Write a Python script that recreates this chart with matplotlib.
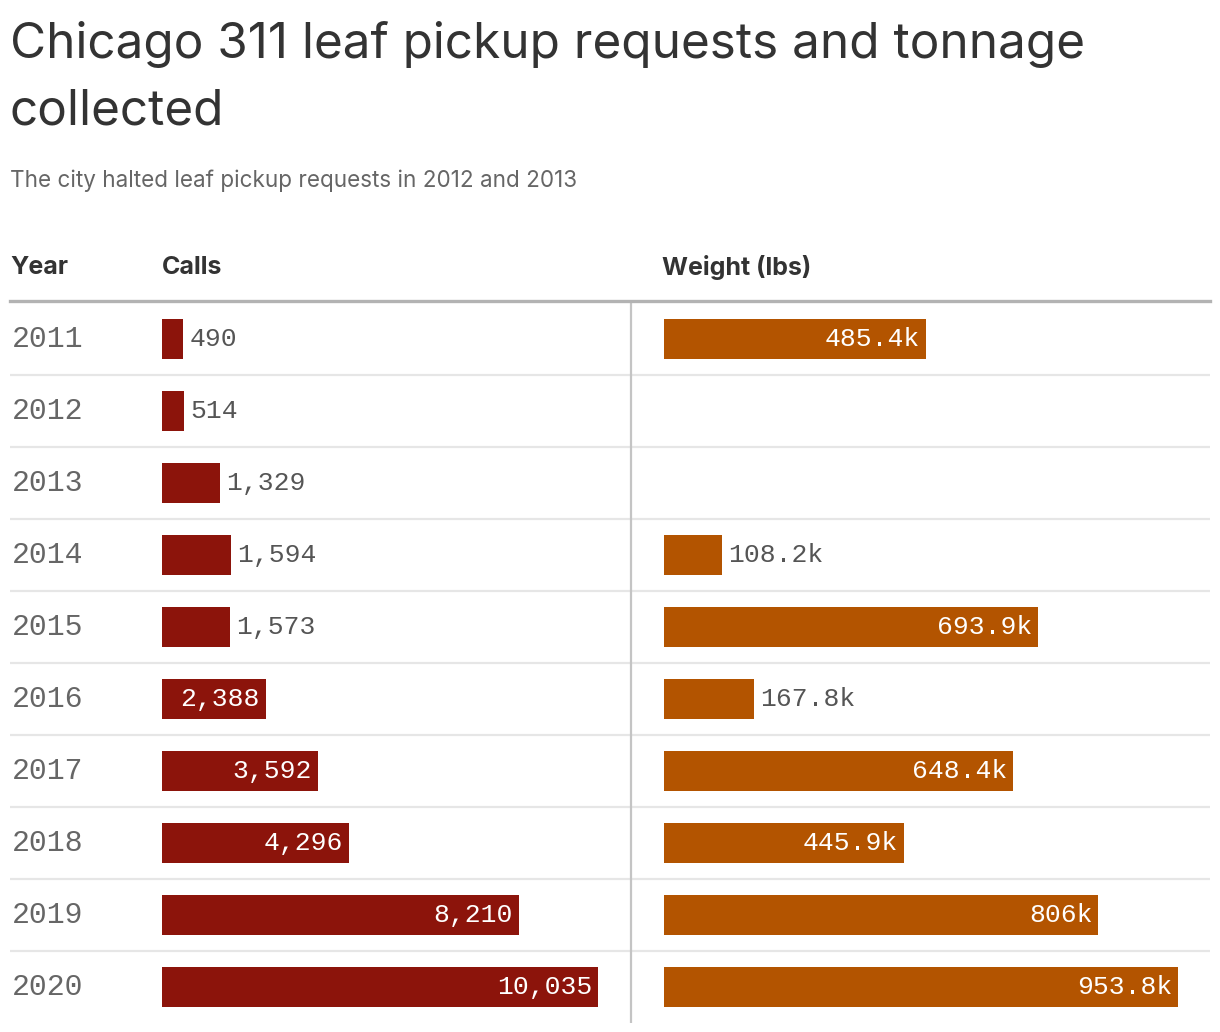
import matplotlib
matplotlib.use('Agg')
import matplotlib.pyplot as plt
from matplotlib.lines import Line2D
import numpy as np

years = [2011, 2012, 2013, 2014, 2015, 2016, 2017, 2018, 2019, 2020]
calls = [490, 514, 1329, 1594, 1573, 2388, 3592, 4296, 8210, 10035]
# weight in thousands of lbs, None = no pickups
weight_k = [485.4, None, None, 108.2, 693.9, 167.8, 648.4, 445.9, 806, 953.8]

title = "Chicago 311 leaf pickup requests and tonnage\ncollected"
subtitle = "The city halted leaf pickup requests in 2012 and 2013"

CALLS_COLOR = '#8c140b'
WEIGHT_COLOR = '#b35400'
SANS = ['Inter', 'DejaVu Sans']
MONO = ['Liberation Mono', 'DejaVu Sans Mono']

W, H = 1220, 1032
fig = plt.figure(figsize=(W / 100, H / 100), dpi=100)


def fx(x):
    return x / W


def fy(y):
    return 1 - y / H


def add_axes_px(x0, y0, x1, y1):
    return fig.add_axes([fx(x0), fy(y1), (x1 - x0) / W, (y1 - y0) / H])


# ---- title block ----
fig.text(fx(10), fy(21), title, ha='left', va='top', fontsize=35.6,
         color='#333333', family=SANS, linespacing=1.58)
fig.text(fx(10), fy(181), subtitle, ha='left', va='center', fontsize=16.2,
         color='#666666', family=SANS)

# ---- headers ----
for x, lab in [(10, 'Year'), (162, 'Calls'), (662, 'Weight (lbs)')]:
    fig.text(fx(x), fy(268), lab, ha='left', va='center', fontsize=18,
             fontweight='bold', color='#333333', family=SANS)
fig.add_artist(Line2D([fx(10), fx(1210)], [fy(301), fy(301)],
                      color='#b3b3b3', linewidth=2.4))

n = len(years)
top, row_h = 303, 72
bottom = top + row_h * n

# ---- table background: row separators, years, divider ----
bg = add_axes_px(10, top, 1210, bottom)
bg.set_xlim(0, 1)
bg.set_ylim(n - 0.5, -0.5)
bg.axis('off')
for i in range(1, n):
    bg.axhline(i - 0.5, color='#e6e6e6', linewidth=1.6)
bg.axvline((631 - 10) / 1200, color='#c4c4c4', linewidth=1.6)
for i, yr in enumerate(years):
    bg.text(0.0015, i, str(yr), ha='left', va='center', fontsize=21.5,
            color='#666666', family=MONO)

BAR_H = 0.555
PAD = 6  # px


def draw_bars(ax, vals, labels, color, xmax):
    ax.set_xlim(0, xmax)
    ax.set_ylim(n - 0.5, -0.5)
    ax.axis('off')
    ax.patch.set_alpha(0)
    fig.canvas.draw()
    px_per_unit = ax.bbox.width / xmax
    for i, (v, lab) in enumerate(zip(vals, labels)):
        if v is None:
            continue
        ax.barh(i, v, height=BAR_H, color=color, linewidth=0)
        bar_px = v * px_per_unit
        lab_px = len(lab) * 15.6 + 2 * PAD
        if bar_px > lab_px:
            ax.annotate(lab, (v, i), xytext=(-PAD, 0), textcoords='offset pixels',
                        ha='right', va='center', fontsize=19,
                        color='white', family=MONO)
        else:
            ax.annotate(lab, (v, i), xytext=(PAD, 0), textcoords='offset pixels',
                        ha='left', va='center', fontsize=19,
                        color='#555555', family=MONO)


ax_calls = add_axes_px(162, top, 631, bottom)
draw_bars(ax_calls, calls, [f'{c:,}' for c in calls], CALLS_COLOR,
          10035 * 469 / 436)

ax_w = add_axes_px(664, top, 1210, bottom)
draw_bars(ax_w, weight_k, [None if w is None else f'{w:g}k' for w in weight_k],
          WEIGHT_COLOR, 953.8 * 546 / 514)

fig.savefig('out.png', dpi=100)
